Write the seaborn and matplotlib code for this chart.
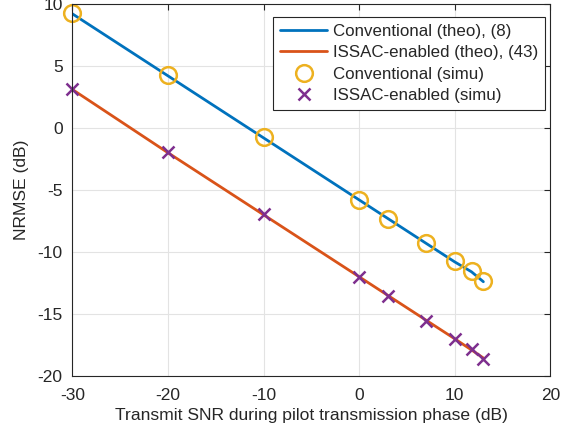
import matplotlib
matplotlib.use("Agg")
import matplotlib.pyplot as plt
import seaborn as sns
import numpy as np
import pandas as pd

# Data
snr_db = [-30, -20, -10, 0, 3, 7, 10, 11.76, 13]
conv_theo = [9.2, 4.2, -0.8, -5.8, -7.3, -9.3, -10.8, -11.6, -12.4]
issac_theo = [3.1, -2.0, -7.0, -12.0, -13.5, -15.5, -17.0, -17.9, -18.55]
conv_simu = [9.25, 4.25, -0.75, -5.78, -7.31, -9.27, -10.75, -11.53, -12.34]
issac_simu = [3.17, -1.94, -6.96, -11.99, -13.52, -15.56, -16.99, -17.85, -18.66]

labels = ["Conventional (theo), (8)", "ISSAC-enabled (theo), (43)",
          "Conventional (simu)", "ISSAC-enabled (simu)"]
xticks = [-30, -20, -10, 0, 10, 20]
yticks = [-20, -15, -10, -5, 0, 5, 10]

sns.set_style("white")
plt.rcParams['font.family'] = ['Liberation Sans', 'DejaVu Sans']
plt.rcParams['axes.unicode_minus'] = False

df = pd.DataFrame({"x": snr_db, "ct": conv_theo, "it": issac_theo,
                   "cs": conv_simu, "is": issac_simu})

fig = plt.figure(figsize=(5.75, 4.4), dpi=100)
ax = fig.add_axes([0.126, 0.1455, 0.831, 0.8455])

blue = "#0072BD"
red = "#D95319"
yellow = "#EDB120"
purple = "#7E2F8E"
txt = "#262626"

sns.lineplot(data=df, x="x", y="ct", ax=ax, color=blue, lw=2.0, label=labels[0])
sns.lineplot(data=df, x="x", y="it", ax=ax, color=red, lw=2.0, label=labels[1])
sns.lineplot(data=df, x="x", y="cs", ax=ax, linestyle="", marker="o",
             markersize=12, markerfacecolor="none", markeredgecolor=yellow,
             markeredgewidth=1.8, color=yellow, label=labels[2], clip_on=False)
sns.lineplot(data=df, x="x", y="is", ax=ax, linestyle="", marker="x",
             markersize=8, markeredgecolor=purple, markeredgewidth=1.8,
             color=purple, label=labels[3], clip_on=False)

ax.set_xlim(-30, 20)
ax.set_ylim(-20, 10)
ax.set_xticks(xticks)
ax.set_yticks(yticks)
ax.grid(True, color="#e3e3e3", lw=0.8)
ax.set_axisbelow(True)
for s in ax.spines.values():
    s.set_color(txt)
    s.set_linewidth(0.8)
ax.tick_params(direction="in", top=True, right=True, length=4, width=0.8,
               colors=txt, labelsize=12.5)
ax.tick_params(axis="x", pad=9)
ax.tick_params(axis="y", pad=7)
ax.set_xlabel("Transmit SNR during pilot transmission phase (dB)", fontsize=12.6,
              color=txt, labelpad=3)
ax.set_ylabel("NRMSE (dB)", fontsize=12.6, color=txt, labelpad=6)

leg = ax.legend(loc="upper right", bbox_to_anchor=(0.988, 0.965), borderaxespad=0,
                fontsize=12.2, frameon=True, fancybox=False, framealpha=1,
                edgecolor=txt, handlelength=2.8, handletextpad=0.3,
                borderpad=0.4, labelspacing=0.38)
leg.get_frame().set_linewidth(0.8)

fig.savefig("out.png", dpi=100)
